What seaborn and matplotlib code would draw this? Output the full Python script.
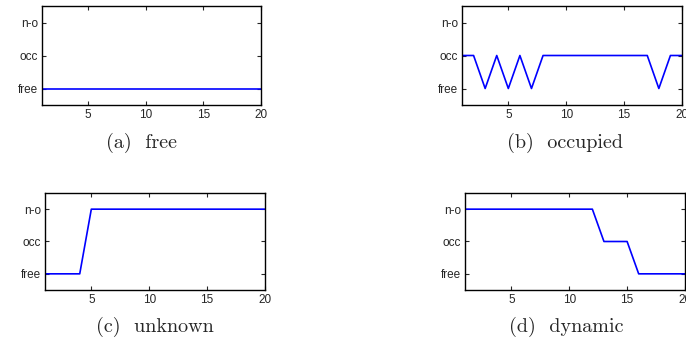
import matplotlib
matplotlib.use("Agg")
import matplotlib.pyplot as plt
import seaborn as sns
import pandas as pd

# Cell state over 20 observations: 1 = free, 2 = occupied, 3 = not observed
steps = list(range(1, 21))
state_free = [1] * 20
state_occupied = [2, 2, 1, 2, 1, 2, 1, 2, 2, 2, 2, 2, 2, 2, 2, 2, 2, 1, 2, 2]
state_unknown = [1, 1, 1, 1, 3, 3, 3, 3, 3, 3, 3, 3, 3, 3, 3, 3, 3, 3, 3, 3]
state_dynamic = [3, 3, 3, 3, 3, 3, 3, 3, 3, 3, 3, 3, 2, 2, 2, 1, 1, 1, 1, 1]

state_ticks = [1, 2, 3]
state_labels = ["free", "occ", "n-o"]
x_ticks = [5, 10, 15, 20]
captions = ["(a)  free", "(b)  occupied", "(c)  unknown", "(d)  dynamic"]

sns.set_style("ticks")
plt.rcParams["font.family"] = ["Liberation Sans", "DejaVu Sans"]

W, H = 686, 339
fig = plt.figure(figsize=(W / 100, H / 100), dpi=100)

# axes boxes in pixels: left, top, right, bottom
boxes = [(42, 6, 261, 105), (462, 6, 682, 105), (45, 193, 265, 290), (465, 193, 685, 290)]
caption_pos = [(141, 143), (565, 143), (155, 327), (566, 327)]
series = [state_free, state_occupied, state_unknown, state_dynamic]

for (l, t, r, b), ys, cap, (cx, cy) in zip(boxes, series, captions, caption_pos):
    ax = fig.add_axes([l / W, 1 - b / H, (r - l) / W, (b - t) / H])
    df = pd.DataFrame({"step": steps, "state": ys})
    sns.lineplot(data=df, x="step", y="state", ax=ax, color="#0000ff", linewidth=1.2)
    ax.set_xlim(1, 20)
    ax.set_ylim(0.5, 3.5)
    ax.set_xticks(x_ticks)
    ax.set_yticks(state_ticks)
    ax.set_yticklabels(state_labels)
    ax.set_xlabel("")
    ax.set_ylabel("")
    ax.tick_params(direction="in", length=3, width=0.8, labelsize=8.5,
                   top=True, right=True, pad=3)
    for s in ax.spines.values():
        s.set_visible(True)
        s.set_linewidth(1.0)
        s.set_color("black")
    fig.text(cx / W, 1 - cy / H, cap, ha="center", va="center",
             fontsize=14.5, family="cmr10")

fig.savefig("out.png", dpi=100)
